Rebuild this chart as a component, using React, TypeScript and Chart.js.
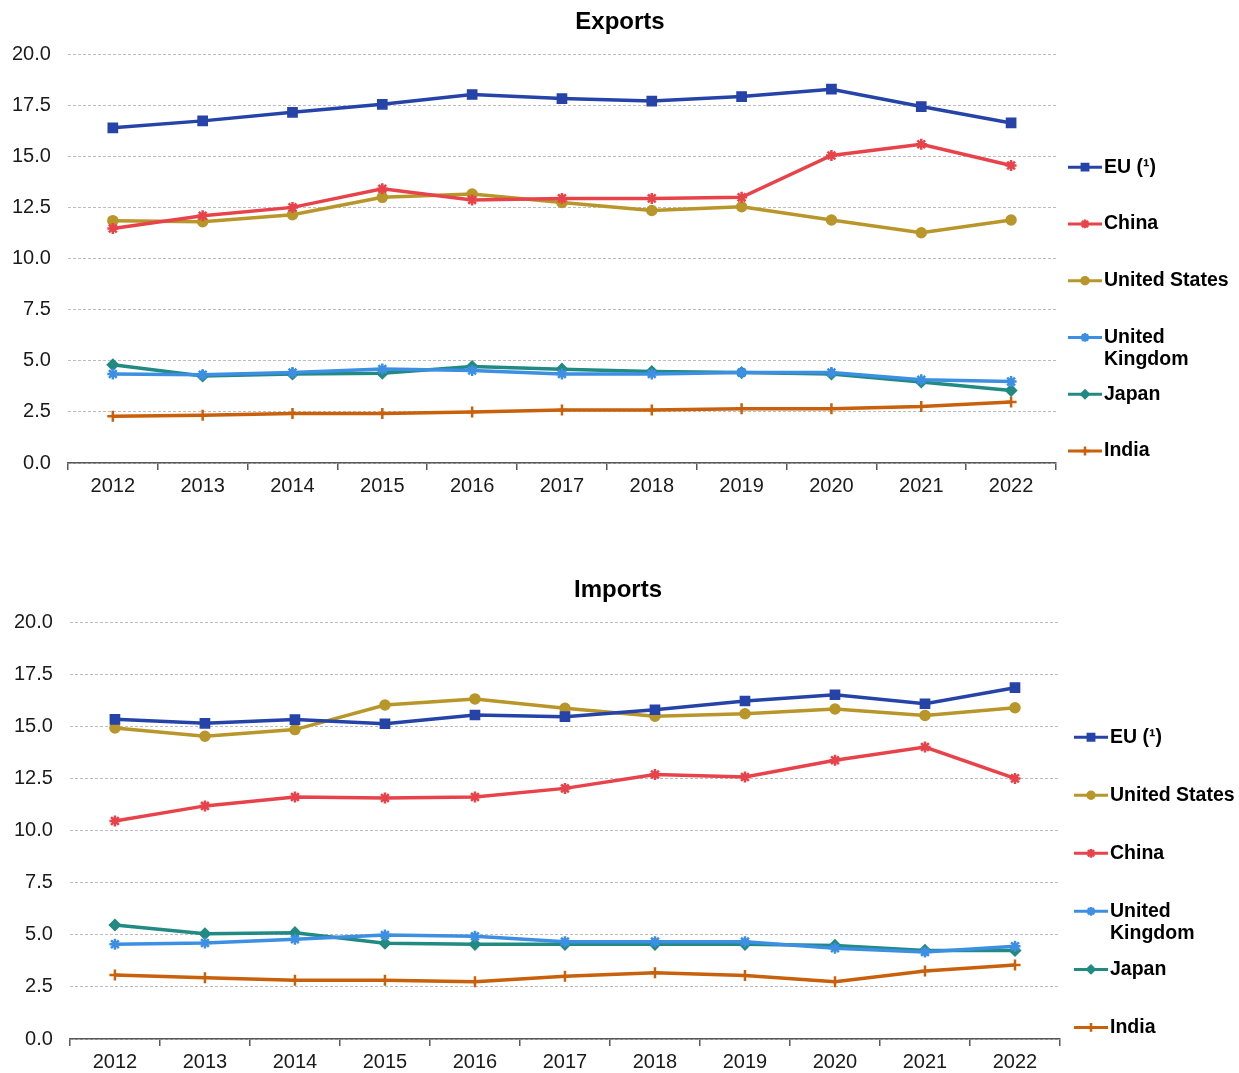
import React, { useEffect, useRef } from 'react';
import { Chart, registerables } from 'chart.js';
import { drawPoint } from 'chart.js/helpers';

Chart.register(...registerables);

const FONT = "'Liberation Sans', Arial, Helvetica, sans-serif";

const years = ['2012', '2013', '2014', '2015', '2016', '2017', '2018', '2019', '2020', '2021', '2022'];
const yTicks = [0, 2.5, 5, 7.5, 10, 12.5, 15, 17.5, 20];

// Exports (% share)
const expEU = [16.39, 16.73, 17.15, 17.54, 18.02, 17.82, 17.7, 17.92, 18.28, 17.43, 16.63];
const expChina = [11.47, 12.09, 12.5, 13.41, 12.86, 12.94, 12.94, 12.99, 15.04, 15.59, 14.55];
const expUS = [11.85, 11.8, 12.14, 12.99, 13.15, 12.74, 12.35, 12.53, 11.88, 11.26, 11.88];
const expUK = [4.35, 4.31, 4.42, 4.6, 4.52, 4.35, 4.35, 4.42, 4.42, 4.07, 3.98];
const expJapan = [4.8, 4.26, 4.35, 4.39, 4.72, 4.59, 4.47, 4.42, 4.35, 3.96, 3.55];
const expIndia = [2.28, 2.34, 2.42, 2.42, 2.49, 2.59, 2.59, 2.65, 2.65, 2.76, 2.98];

// Imports (% share)
const impEU = [15.33, 15.14, 15.32, 15.12, 15.54, 15.46, 15.79, 16.21, 16.51, 16.08, 16.85];
const impUS = [14.92, 14.52, 14.84, 16.02, 16.31, 15.86, 15.48, 15.6, 15.83, 15.52, 15.89];
const impChina = [10.46, 11.18, 11.61, 11.56, 11.61, 12.02, 12.69, 12.57, 13.37, 14.0, 12.5];
const impUK = [4.54, 4.6, 4.78, 4.99, 4.93, 4.67, 4.67, 4.67, 4.35, 4.17, 4.45];
const impJapan = [5.47, 5.05, 5.1, 4.59, 4.54, 4.54, 4.54, 4.54, 4.49, 4.25, 4.25];
const impIndia = [3.07, 2.94, 2.82, 2.82, 2.75, 3.01, 3.18, 3.05, 2.75, 3.26, 3.55];

const LABEL_EU = 'EU (\u00B9)';

const STYLE: Record<string, { color: string; pointStyle: string; radius: number; pbw: number }> = {
  eu: { color: '#2643A8', pointStyle: 'rect', radius: 6.5, pbw: 1.5 },
  china: { color: '#E8434A', pointStyle: 'star', radius: 5.5, pbw: 2.5 },
  us: { color: '#B8962A', pointStyle: 'circle', radius: 5, pbw: 1.5 },
  uk: { color: '#3C8FE2', pointStyle: 'star', radius: 5.5, pbw: 2.5 },
  japan: { color: '#218A82', pointStyle: 'rectRot', radius: 5.5, pbw: 1.5 },
  india: { color: '#C8600C', pointStyle: 'cross', radius: 5.5, pbw: 2.5 },
};

function ds(label: string, data: number[], key: string) {
  const s = STYLE[key];
  return {
    label,
    data,
    borderColor: s.color,
    backgroundColor: s.color,
    pointBackgroundColor: s.color,
    pointBorderColor: s.color,
    pointStyle: s.pointStyle,
    pointRadius: s.radius,
    pointBorderWidth: s.pbw,
    borderWidth: 3.5,
    tension: 0,
    fill: false,
  };
}

const sideLegend = {
  id: 'sideLegend',
  afterDraw(chart: any, _args: any, opts: any) {
    const { ctx, chartArea } = chart;
    const h = chartArea.bottom - chartArea.top;
    ctx.save();
    // title
    ctx.font = `bold 24px ${FONT}`;
    ctx.textBaseline = 'middle';
    ctx.textAlign = 'center';
    ctx.fillStyle = '#000';
    ctx.fillText(opts.title, opts.titleX, opts.titleY);
    // legend
    ctx.font = `bold 19.5px ${FONT}`;
    ctx.textAlign = 'left';
    chart.data.datasets.forEach((d: any, i: number) => {
      const y = chartArea.top + h * (opts.start + i * opts.step);
      const x0 = chartArea.right + opts.lineStart;
      ctx.strokeStyle = d.borderColor;
      ctx.fillStyle = d.borderColor;
      ctx.lineWidth = 3;
      ctx.beginPath();
      ctx.moveTo(x0, y);
      ctx.lineTo(x0 + 34, y);
      ctx.stroke();
      ctx.lineWidth = d.pointBorderWidth;
      drawPoint(ctx, { pointStyle: d.pointStyle, radius: d.pointRadius * 0.8, rotation: 0, borderWidth: d.pointBorderWidth } as any, x0 + 17, y);
      const words = String(d.label).split(' ');
      const lines: string[] = [];
      let cur = '';
      words.forEach((w) => {
        const t = cur ? cur + ' ' + w : w;
        if (cur && ctx.measureText(t).width > 132) {
          lines.push(cur);
          cur = w;
        } else cur = t;
      });
      if (cur) lines.push(cur);
      ctx.fillStyle = '#000';
      lines.forEach((ln, k) => ctx.fillText(ln, x0 + 36, y + k * 22));
    });
    ctx.restore();
  },
};

function makeOptions(pad: any, legendOpts: any) {
  return {
    responsive: true,
    maintainAspectRatio: false,
    animation: false,
    layout: { padding: pad },
    plugins: {
      legend: { display: false },
      tooltip: { enabled: false },
      title: { display: false },
      sideLegend: legendOpts,
    },
    scales: {
      x: {
        type: 'category',
        offset: true,
        grid: {
          display: true,
          offset: true,
          drawOnChartArea: false,
          drawTicks: true,
          tickLength: 7,
          color: '#595959',
          lineWidth: 1.5,
        },
        border: { display: true, color: '#595959', width: 1.5 },
        ticks: {
          color: '#1a1a1a',
          font: { family: FONT, size: 20, lineHeight: 1 },
          padding: 6,
          maxRotation: 0,
          autoSkip: false,
        },
      },
      y: {
        min: 0,
        max: 20,
        afterBuildTicks: (axis: any) => {
          axis.ticks = yTicks.map((v) => ({ value: v }));
        },
        grid: {
          color: '#bdbdbd',
          lineWidth: 1,
          drawTicks: false,
        },
        border: { display: false, dash: [3, 2] },
        ticks: {
          color: '#1a1a1a',
          font: { family: FONT, size: 20, lineHeight: 1 },
          padding: 17,
          callback: (v: any) => Number(v).toFixed(1),
        },
      },
    },
  };
}

function LineChart({ datasets, height, pad, legendOpts }: any) {
  const ref = useRef<HTMLCanvasElement>(null);
  useEffect(() => {
    if (!ref.current) return;
    const chart = new Chart(ref.current, {
      type: 'line',
      data: { labels: years, datasets },
      options: makeOptions(pad, legendOpts) as any,
      plugins: [sideLegend as any],
    });
    return () => chart.destroy();
  }, []);
  return (
    <div style={{ position: 'relative', width: '1231px', height: `${height}px` }}>
      <canvas ref={ref} />
    </div>
  );
}

export default function App() {
  useEffect(() => {
    document.body.style.margin = '0';
  }, []);
  const exportSets = [
    ds(LABEL_EU, expEU, 'eu'),
    ds('China', expChina, 'china'),
    ds('United States', expUS, 'us'),
    ds('United Kingdom', expUK, 'uk'),
    ds('Japan', expJapan, 'japan'),
    ds('India', expIndia, 'india'),
  ];
  const importSets = [
    ds(LABEL_EU, impEU, 'eu'),
    ds('United States', impUS, 'us'),
    ds('China', impChina, 'china'),
    ds('United Kingdom', impUK, 'uk'),
    ds('Japan', impJapan, 'japan'),
    ds('India', impIndia, 'india'),
  ];
  return (
    <div style={{ fontFamily: FONT, padding: '8px 0 0 8px', width: '1231px', height: '1065px' }}>
      <LineChart
        datasets={exportSets}
        height={505}
        pad={{ left: -13, right: 183, top: 46, bottom: 11 }}
        legendOpts={{ title: 'Exports', titleX: 612, titleY: 14, start: 0.2766, step: 0.1388, lineStart: 12 }}
      />
      <LineChart
        datasets={importSets}
        height={560}
        pad={{ left: -11, right: 179, top: 109, bottom: -5 }}
        legendOpts={{ title: 'Imports', titleX: 610, titleY: 77, start: 0.2763, step: 0.1392, lineStart: 14 }}
      />
    </div>
  );
}
